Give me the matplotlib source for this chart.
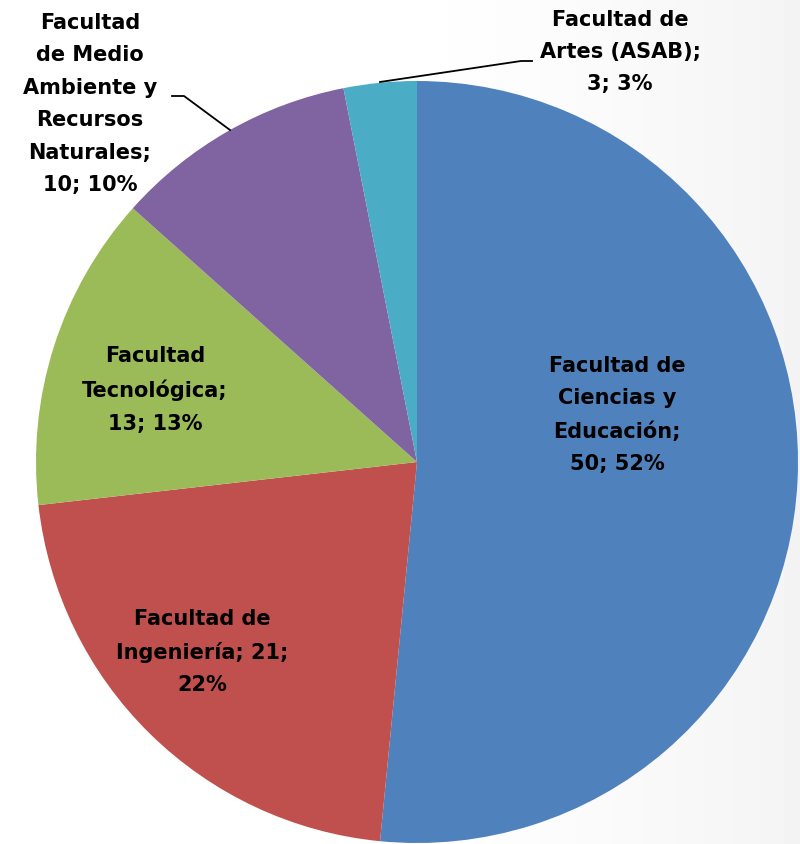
import numpy as np
import matplotlib.pyplot as plt

valores = [50, 21, 13, 10, 3]
colores = ['#4F81BD', '#C0504D', '#9BBB59', '#8064A2', '#4BACC6']

W, H = 800, 845
cx, cy, R = 417, 463, 381

plt.rcParams['font.family'] = ['DejaVu Sans']

fig = plt.figure(figsize=(W / 100, H / 100), dpi=100)

# faint grey gradient in the background
bg = fig.add_axes([0, 0, 1, 1])
xx = np.linspace(0, 1, 200)
grad = np.clip((xx - 0.45) / 0.55, 0, 1) ** 1.5
img = np.tile(1 - 0.045 * grad, (50, 1))
bg.imshow(img, cmap='gray', vmin=0, vmax=1, aspect='auto', extent=[0, 1, 0, 1])
bg.axis('off')

ax = fig.add_axes([0, 0, 1, 1])
ax.patch.set_alpha(0)
ax.pie(valores, colors=colores, startangle=90, counterclock=False, radius=1,
       wedgeprops=dict(linewidth=0))
ax.set_xlim(-cx / R, (W - cx) / R)
ax.set_ylim(-(H - cy) / R, cy / R)
ax.axis('off')


def px(x, y):
    return ((x - cx) / R, (cy - y) / R)


total = sum(valores)
pcts = [round(v / total * 100) for v in valores]

textos = [
    f'Facultad de\nCiencias y\nEducación;\n{valores[0]}; {pcts[0]}%',
    f'Facultad de\nIngeniería; {valores[1]};\n{pcts[1]}%',
    f'Facultad\nTecnológica;\n{valores[2]}; {pcts[2]}%',
    f'Facultad\nde Medio\nAmbiente y\nRecursos\nNaturales;\n{valores[3]}; {pcts[3]}%',
    f'Facultad de\nArtes (ASAB);\n{valores[4]}; {pcts[4]}%',
]
posiciones = [(617, 415), (202, 652), (155, 390), (90, 104), (620, 52)]

kw = dict(ha='center', va='center', fontsize=15, fontweight='bold', color='black', linespacing=1.78)
for t, (x, y) in zip(textos[:3], posiciones[:3]):
    ax.text(*px(x, y), t, **kw)

# leader lines for the small slices
ax.text(*px(*posiciones[3]), textos[3], **kw)
lx, ly = zip(px(172, 97), px(184, 97), px(230, 131))
ax.plot(lx, ly, color='black', lw=1.3)

ax.text(*px(*posiciones[4]), textos[4], **kw)
lx, ly = zip(px(380, 83), px(521, 62), px(532, 62))
ax.plot(lx, ly, color='black', lw=1.3)

fig.savefig('out.png', dpi=100)
